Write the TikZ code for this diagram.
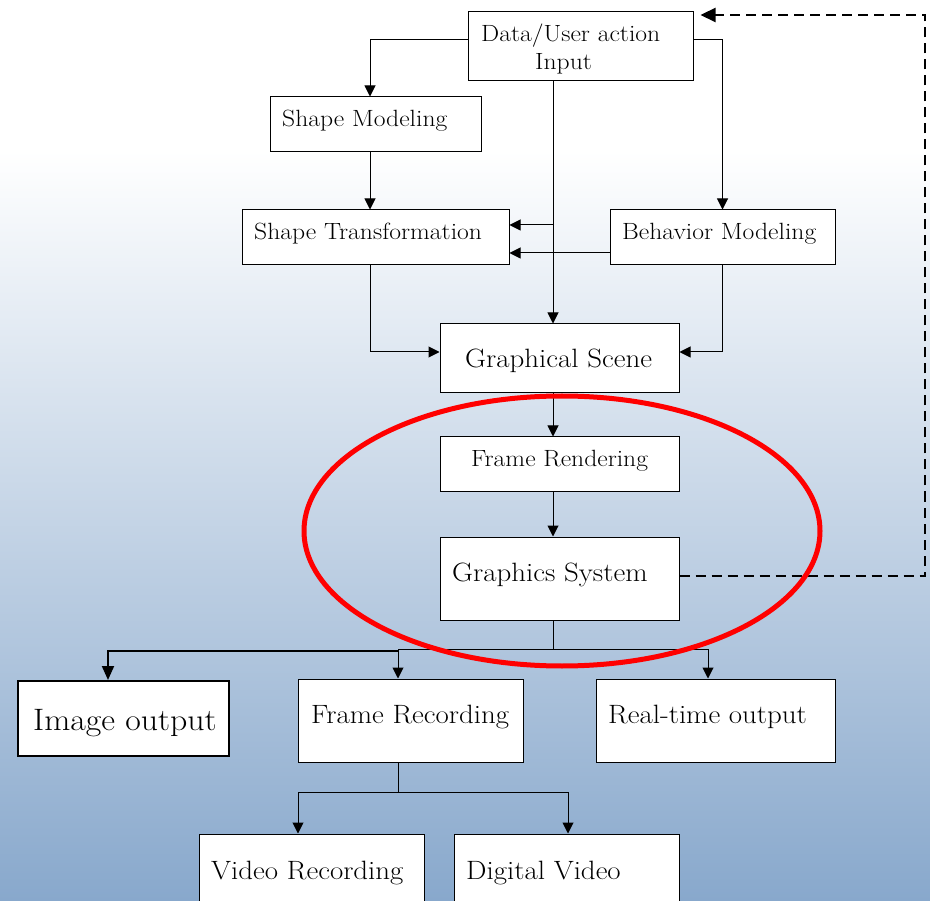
\documentclass[tikz,border=0pt]{standalone}
\usepackage{fontspec}
\setmainfont{Latin Modern Roman}[FakeStretch=1.09]
\usetikzlibrary{arrows.meta}
\definecolor{bgblue}{HTML}{88A8CC}
\begin{document}
\begin{tikzpicture}[x=1pt,y=-1pt,
  box/.style={draw=black,fill=white,line width=1pt,inner sep=0pt},
  lbl/.style={anchor=base west,inner sep=0pt},
  small/.style={lbl,font=\fontsize{23.5}{28}\selectfont},
  medium/.style={lbl,font=\fontsize{26.5}{31}\selectfont},
  large/.style={lbl,font=\fontsize{31}{36}\selectfont},
  arr/.style={line width=1pt,-{Triangle[length=11pt,width=11pt]}},
  line/.style={line width=1pt},
  thickarr/.style={line width=2pt,-{Triangle[length=14pt,width=12pt]}},
  fback/.style={line width=2.2pt,dash pattern=on 10pt off 6pt,-{Triangle[length=15pt,width=14pt]}},
  ring/.style={draw=red,line width=5pt}]

\clip (0,0) rectangle (930,901);

% background: white band, then a vertical fade to blue
\fill[white] (0,0) rectangle (930,151);
\shade[top color=white,bottom color=bgblue] (0,150) rectangle (930,901);

% boxes
\node[box,minimum width=225,minimum height=69] (data)   at (580.5,46.5) {};
\node[box,minimum width=211,minimum height=55] (shapem) at (375.5,124.5) {};
\node[box,minimum width=267,minimum height=55] (shapet) at (375.5,237.5) {};
\node[box,minimum width=225,minimum height=55] (behav)  at (722.5,237.5) {};
\node[box,minimum width=239,minimum height=69] (scene)  at (559.5,358.5) {};
\node[box,minimum width=239,minimum height=55] (render) at (559.5,464.5) {};
\node[box,minimum width=239,minimum height=83] (gsys)   at (559.5,578.5) {};
\node[box,line width=2pt,minimum width=211,minimum height=75] (image) at (123.5,718.5) {};
\node[box,minimum width=225,minimum height=83] (frec)   at (410.5,720.5) {};
\node[box,minimum width=239,minimum height=83] (realt)  at (715.5,720.5) {};
\node[box,minimum width=225,minimum height=80] (video)  at (311.5,874) {};
\node[box,minimum width=225,minimum height=80] (dvideo) at (566.5,874) {};

% box texts
\node[small]  (data-t1)   at (481,42)  {Data/User action};
\node[small]  (data-t2)   at (535,70)  {Input};
\node[small]  (shapem-t)  at (282,127) {Shape Modeling};
\node[small]  (shapet-t)  at (254,240) {Shape Transformation};
\node[small]  (behav-t)   at (622,240) {Behavior Modeling};
\node[medium] (scene-t)   at (465,368) {Graphical Scene};
\node[small]  (render-t)  at (471,467) {Frame Rendering};
\node[medium] (gsys-t)    at (452,581) {Graphics System};
\node[large]  (image-t)   at (33,730)  {Image output};
\node[medium] (frec-t)    at (311,723) {Frame Recording};
\node[medium] (realt-t)   at (608,723) {Real-time output};
\node[medium] (video-t)   at (211,879) {Video Recording};
\node[medium] (dvideo-t)  at (466,879) {Digital Video};

% routing points
\coordinate (spine) at (553,0);
\coordinate (j1) at (553,225);
\coordinate (j2) at (553,649);
\coordinate (j2l) at (398,651);
\coordinate (j3) at (398,792);
\coordinate (fbbot) at (925,576);
\coordinate (fbtop) at (925,15);

% input fan-out
\draw[arr] ([yshift=6.5pt]data.west) -| ([xshift=-5.5pt]shapem.north);
\draw[arr] ([yshift=6.5pt]data.east) -| (behav.north);
\draw[arr] (data.south -| spine) -- (scene.north -| spine);
\draw[arr] (j1) -- (j1 -| shapet.east);
\draw[arr] ([yshift=-15.5pt]behav.west) -- ([yshift=-15.5pt]shapet.east);
\draw[arr] ([xshift=-5.5pt]shapem.south) -- ([xshift=-5.5pt]shapem.south |- shapet.north);

% into the scene
\draw[arr] ([xshift=-5.5pt]shapet.south) |- ([yshift=6.5pt]scene.west);
\draw[arr] (behav.south) |- ([yshift=6.5pt]scene.east);

% rendering chain
\draw[arr] (scene.south -| spine) -- (render.north -| spine);
\draw[arr] (render.south -| spine) -- (gsys.north -| spine);

% outputs
\draw[line] (gsys.south -| spine) -- (j2);
\draw[thickarr] (j2l) -| ([xshift=-15.5pt]image.north);
\draw[arr] (j2) -| ([xshift=-12.5pt]frec.north);
\draw[arr] (j2) -| ([xshift=-7.5pt]realt.north);

% recording branch
\draw[line] ([xshift=-12.5pt]frec.south) -- (j3);
\draw[arr] (j3) -| ([xshift=-13.5pt]video.north);
\draw[arr] (j3) -| ([xshift=1.5pt]dvideo.north);

% feedback loop
\draw[fback] ([yshift=2.5pt]gsys.east) -- (fbbot) -- (fbtop) -- ([xshift=7pt,yshift=31.5pt]data.east);

% highlight ring
\draw[ring] (562,531) ellipse [x radius=258,y radius=135];
\end{tikzpicture}
\end{document}
